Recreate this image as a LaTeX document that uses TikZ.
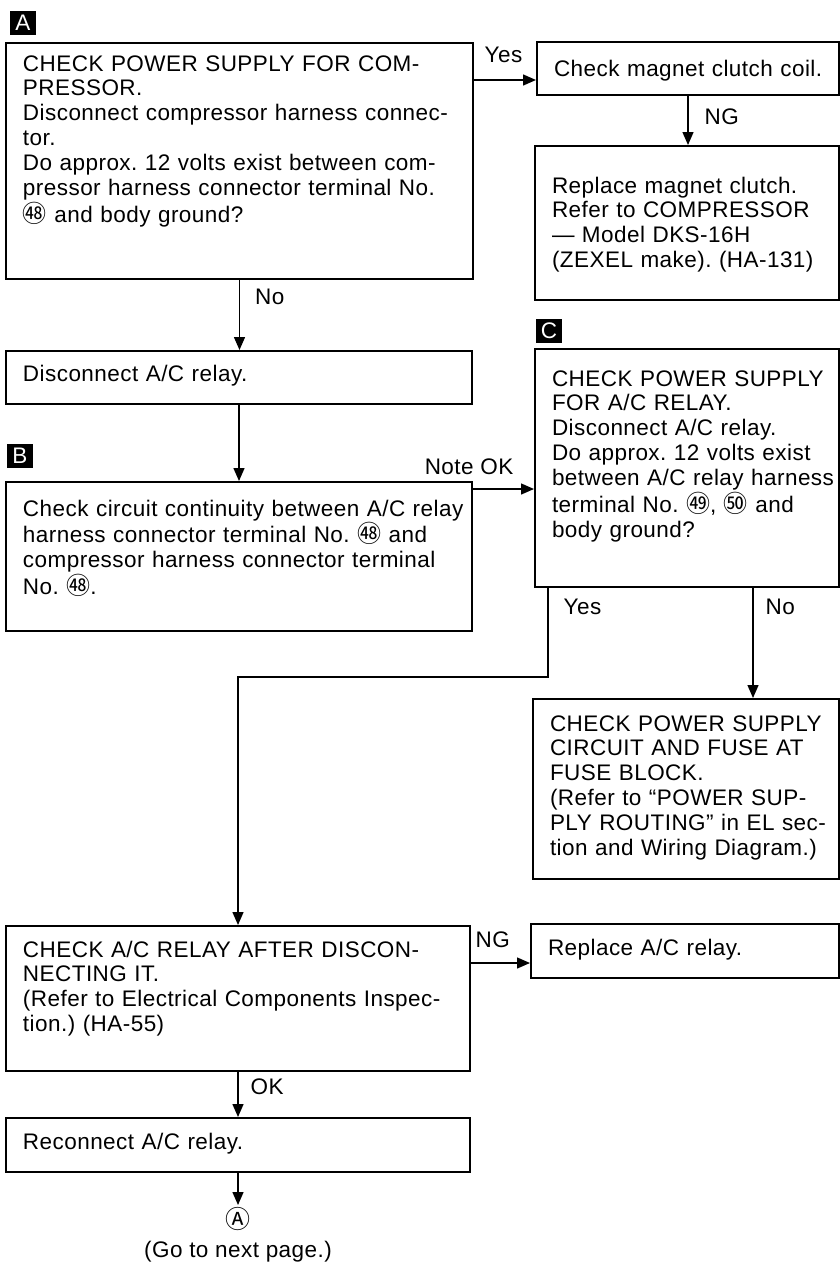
\documentclass[tikz,border=0pt]{standalone}
\usepackage{fontspec}
\setmainfont{Liberation Sans}[LetterSpace=2.0]
\newfontfamily\numfont{Noto Sans CJK JP}
\usetikzlibrary{arrows.meta,positioning}
\newcommand{\bodyfont}{\fontsize{11.25}{12.45}\selectfont}
\newcommand{\cnum}[1]{{\numfont\fontsize{12}{12}\selectfont #1}}
\frenchspacing

\begin{document}
\begin{tikzpicture}[x=0.5pt,y=-0.5pt,
blk/.style={draw,line width=1pt,anchor=north west,inner sep=0pt,align=left,font=\bodyfont,execute at begin node={\leftskip=8.5pt}},
tag/.style={fill=black,text=white,inner sep=0pt,minimum width=13pt,minimum height=12pt,font=\bodyfont},
lbl/.style={font=\bodyfont,inner sep=0pt},
arr/.style={-{Triangle[length=6.5pt,width=5.5pt]},line width=0.7pt}
]
\useasboundingbox (0,0) rectangle (840,1280);

% left column
\node[tag] (tagA) at (23,23) {A};
\node[blk,text width=233.5pt,text height=14pt,text depth=104pt] (chkA) at (5,42) {CHECK POWER SUPPLY FOR COM-\\PRESSOR.\\Disconnect compressor harness connec-\\tor.\\Do approx. 12 volts exist between com-\\pressor harness connector terminal No.\\\cnum{㊽} and body ground?};
\node[blk,text width=233pt,text height=15pt,text depth=11.5pt] (disc) at (5,350) {Disconnect A/C relay.};
\node[tag] (tagB) at (20,456) {B};
\node[blk,text width=233pt,text height=17pt,text depth=57.5pt] (chkB) at (5,481) {Check circuit continuity between A/C relay\\harness connector terminal No. \cnum{㊽} and\\compressor harness connector terminal\\No. \cnum{㊽}.};
\node[blk,text width=232pt,text height=15.5pt,text depth=57pt] (relay) at (5,925) {CHECK A/C RELAY AFTER DISCON-\\NECTING IT.\\(Refer to Electrical Components Inspec-\\tion.) (HA-55)};
\node[blk,text width=232pt,text height=15.5pt,text depth=11.5pt] (recon) at (5,1117) {Reconnect A/C relay.};
\node[font=\numfont\fontsize{12.5}{14}\selectfont,inner sep=1pt,below=16pt of recon] (goA) {Ⓐ};
\node[lbl,below=4pt of goA] (nextpg) {(Go to next page.)};

% right column
\node[blk,text width=151pt,text height=17pt,text depth=9.5pt] (coil) at (536,41) {Check magnet clutch coil.};
\node[blk,text width=152pt,text height=23.5pt,text depth=53.5pt] (clutch) at (534,145) {Replace magnet clutch.\\Refer to COMPRESSOR\\--- Model DKS-16H\\(ZEXEL make). (HA-131)};
\node[tag] (tagC) at (549,331) {C};
\node[blk,text width=152pt,text height=18.5pt,text depth=100.5pt] (chkC) at (534,348) {CHECK POWER SUPPLY\\FOR A/C RELAY.\\Disconnect A/C relay.\\Do approx. 12 volts exist\\between A/C relay harness\\terminal No. \cnum{㊾}, \cnum{㊿} and\\body ground?};
\node[blk,text width=153pt,text height=16pt,text depth=74pt] (fuse) at (532,698) {CHECK POWER SUPPLY\\CIRCUIT AND FUSE AT\\FUSE BLOCK.\\(Refer to “POWER SUP-\\PLY ROUTING” in EL sec-\\tion and Wiring Diagram.)};
\node[blk,text width=154pt,text height=15.5pt,text depth=11.5pt] (repl) at (530,923) {Replace A/C relay.};

\coordinate (yesbend) at (548,677);

\draw[arr] (chkA.east |- 0,80) -- (coil.west |- 0,80) node[lbl,pos=0,anchor=base west,xshift=5pt,yshift=9pt] (yesA) {Yes};
\draw[arr] (coil.south) -- (coil.south |- clutch.north) node[lbl,pos=0,anchor=base west,xshift=8pt,yshift=-14pt] (ngcoil) {NG};
\draw[arr] (chkA.south) -- (chkA.south |- disc.north) node[lbl,pos=0,anchor=base west,xshift=7.5pt,yshift=-12pt] (noA) {No};
\draw[arr] (disc.south) -- (disc.south |- chkB.north);
\draw[arr] (chkB.east |- 0,489) -- (chkC.west |- 0,489) node[lbl,pos=0,anchor=base east,xshift=20.5pt,yshift=7.5pt] (noteok) {Note OK};
\draw[arr] (chkC.south -| yesbend) -- node[lbl,pos=0,anchor=base west,xshift=7.5pt,yshift=-13pt] (yesC) {Yes} (yesbend) -| (relay.north);
\draw[arr] (chkC.south -| 753,0) -- (fuse.north -| 753,0) node[lbl,pos=0,anchor=base west,xshift=6pt,yshift=-13pt] (noC) {No};
\draw[arr] (relay.east |- 0,963) -- (repl.west |- 0,963) node[lbl,pos=0,anchor=base west,xshift=2pt,yshift=8pt] (ngrelay) {NG};
\draw[arr] (relay.south) -- (recon.north) node[lbl,pos=0,anchor=base west,xshift=6pt,yshift=-11pt] (okrelay) {OK};
\draw[arr] (recon.south) -- (goA.north);
\end{tikzpicture}
\end{document}
